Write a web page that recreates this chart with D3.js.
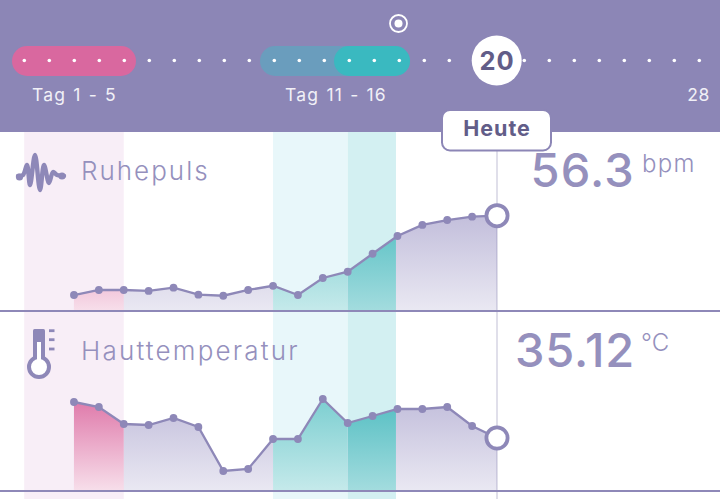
<!DOCTYPE html>
<html>
<head>
<meta charset="utf-8">
<script src="https://cdn.jsdelivr.net/npm/d3@7"></script>
<style>
  html, body { margin: 0; padding: 0; background: #fff; }
  svg { display: block; }
</style>
</head>
<body>
<svg id="chart" width="720" height="499"></svg>
<script>
// Cycle days and daily readings (days 3 to 20)
const cycleDays = [1, 2, 3, 4, 5, 6, 7, 8, 9, 10, 11, 12, 13, 14, 15, 16, 17, 18, 19, 20, 21, 22, 23, 24, 25, 26, 27, 28];
const measuredDays = [3, 4, 5, 6, 7, 8, 9, 10, 11, 12, 13, 14, 15, 16, 17, 18, 19, 20];
const restingPulse = [49.69, 50.11, 50.11, 50.03, 50.3, 49.72, 49.63, 50.11, 50.46, 49.69, 51.11, 51.63, 53.13, 54.61, 55.53, 55.94, 56.22, 56.3];
const skinTemperature = [35.48, 35.43, 35.26, 35.25, 35.32, 35.23, 34.79, 34.81, 35.11, 35.11, 35.51, 35.27, 35.34, 35.41, 35.41, 35.43, 35.24, 35.12];
const today = 20;
const lastDay = 28;
const todayLabel = "Heute";
const periodLabel = "Tag 1 - 5";
const fertileLabel = "Tag 11 - 16";
const phaseStart = [1, 11, 14];
const phaseEnd = [5, 14, 16];

const svg = d3.select("#chart");
const W = 720, H = 499;
const HEADER = 132;

const C = {
  header: "#8c86b6", line: "#8e88b8", text: "#9590bd", soft: "#f1f0f7",
  dark: "#625d88", guide: "#d6d4e3"
};

// Timeline and chart share a day axis but sit on slightly different grids
const xTop = d3.scaleLinear().domain([1, 28]).range([24.3, 699.3]);
const x = d3.scaleLinear().domain([1, 20]).range([24.2, 497]);
const yPulse = d3.scaleLinear().domain([48.3, 56.3]).range([311.7, 215.7]);
const yTemp = d3.scaleLinear().domain([34.59, 35.12]).range([491, 438]);

const defs = svg.append("defs");

// Vertical fades, one set per chart
function fade(id, color, y1, y2, o1, o2) {
  const g = defs.append("linearGradient").attr("id", id)
    .attr("gradientUnits", "userSpaceOnUse")
    .attr("x1", 0).attr("x2", 0).attr("y1", y1).attr("y2", y2);
  g.append("stop").attr("offset", 0).attr("stop-color", color).attr("stop-opacity", o1);
  g.append("stop").attr("offset", 1).attr("stop-color", color).attr("stop-opacity", o2);
}

// Phase backgrounds
const bandFill = ["#f8eef7", "#e8f7fa", "#d3f0f2"];
phaseStart.forEach((d, i) => {
  svg.append("rect")
    .attr("x", x(d)).attr("y", HEADER)
    .attr("width", x(phaseEnd[i]) - x(d) - (i === 2 ? 1.5 : 0))
    .attr("height", H - HEADER)
    .attr("fill", bandFill[i]);
});

// Today guide
svg.append("line")
  .attr("x1", x(today)).attr("x2", x(today))
  .attr("y1", 150).attr("y2", H)
  .attr("stroke", C.guide).attr("stroke-width", 1.5);

// Draws one metric panel
function panel(key, values, y, baseline, top) {
  const area = d3.area().x((d, i) => x(measuredDays[i])).y0(baseline).y1(d => y(d));
  const line = d3.line().x((d, i) => x(measuredDays[i])).y(d => y(d));

  fade(key + "-base", "#8a82ba", top, baseline, 0.52, 0.18);
  fade(key + "-p0", "#d9609a", top, baseline, 0.85, 0.2);
  fade(key + "-p1", "#3fb8bb", top, baseline, 0.68, 0.3);
  fade(key + "-p2", "#2fb0b5", top, baseline, 0.82, 0.44);

  svg.append("path").attr("d", area(values)).attr("fill", `url(#${key}-base)`);

  phaseStart.forEach((d, i) => {
    const clipId = `${key}-clip${i}`;
    defs.append("clipPath").attr("id", clipId).append("rect")
      .attr("x", x(d)).attr("y", top - 20)
      .attr("width", x(phaseEnd[i]) - x(d) - (i === 2 ? 1.5 : 0))
      .attr("height", baseline - top + 20);
    // White underlay keeps the phase colour from mixing with the band behind it
    svg.append("path").attr("d", area(values))
      .attr("clip-path", `url(#${clipId})`)
      .attr("fill", "#fff");
    svg.append("path").attr("d", area(values))
      .attr("clip-path", `url(#${clipId})`)
      .attr("fill", `url(#${key}-p${i})`);
  });

  svg.append("path").attr("d", line(values))
    .attr("fill", "none").attr("stroke", C.line).attr("stroke-width", 2.3);

  svg.selectAll(`.dot-${key}`).data(values.slice(0, -1)).join("circle")
    .attr("cx", (d, i) => x(measuredDays[i])).attr("cy", d => y(d))
    .attr("r", 3.9).attr("fill", C.line);

  svg.append("circle")
    .attr("cx", x(today)).attr("cy", y(values[values.length - 1]))
    .attr("r", 10.6).attr("fill", "#fff")
    .attr("stroke", C.line).attr("stroke-width", 3.8);
}

panel("pulse", restingPulse, yPulse, 311, 215);
panel("temp", skinTemperature, yTemp, 491, 399);

// Panel separators
[311, 491].forEach(yy => {
  svg.append("line").attr("x1", 0).attr("x2", W).attr("y1", yy).attr("y2", yy)
    .attr("stroke", C.line).attr("stroke-width", 2);
});

// Header strip
svg.append("rect").attr("width", W).attr("height", HEADER).attr("fill", C.header);

const pillY = 46, pillH = 30;
const pills = [
  { from: 1, to: 5, color: "#d9689f", padL: 12.3, padR: 11.7 },
  { from: 11, to: 16, color: "#6a9dbd", padL: 14.3, padR: 10.7 },
  { from: 14, to: 16, color: "#3ab9c0", padL: 15.3, padR: 10.7 }
];
pills.forEach(p => {
  svg.append("rect")
    .attr("x", xTop(p.from) - p.padL).attr("y", pillY)
    .attr("width", xTop(p.to) - xTop(p.from) + p.padL + p.padR).attr("height", pillH)
    .attr("rx", 15).attr("fill", p.color);
});

svg.selectAll(".day-dot").data(cycleDays.filter(d => d !== today)).join("circle")
  .attr("cx", d => xTop(d)).attr("cy", 60.5).attr("r", 1.8).attr("fill", "#fff");

svg.append("circle").attr("cx", 496.7).attr("cy", 60.5).attr("r", 25).attr("fill", "#fff");

// Ovulation marker above the timeline
svg.append("circle").attr("cx", 398.5).attr("cy", 23.5).attr("r", 8.5)
  .attr("fill", "none").attr("stroke", "#fff").attr("stroke-width", 1.8);
svg.append("circle").attr("cx", 398.5).attr("cy", 23.5).attr("r", 4).attr("fill", "#fff");

function label(txt, xx, yy, size, fill, opts = {}) {
  return svg.append("text").attr("x", xx).attr("y", yy)
    .attr("text-anchor", opts.anchor || "start")
    .attr("font-family", opts.family || "Inter, Roboto, sans-serif")
    .attr("font-weight", opts.weight || 400)
    .attr("font-size", size)
    .attr("letter-spacing", opts.spacing || 0)
    .attr("word-spacing", opts.words || 0)
    .attr("fill", fill).text(txt);
}

label(today, 497.2, 69.5, 25.5, C.dark, { anchor: "middle", weight: 700, spacing: 1 });

label(periodLabel, 74.5, 101, 17.5, C.soft, { anchor: "middle", spacing: 1.2, words: 1 });
label(fertileLabel, 336, 101, 17.5, C.soft, { anchor: "middle", spacing: 1.2, words: 1 });
label(lastDay, 698.5, 101, 17.5, C.soft, { anchor: "middle", spacing: 0.5 });

// "Heute" callout
svg.append("rect").attr("x", 442).attr("y", 110).attr("width", 109).attr("height", 40.5)
  .attr("rx", 8).attr("fill", "#fff").attr("stroke", C.header).attr("stroke-width", 2);
label(todayLabel, 497, 136, 21.5, C.dark, { anchor: "middle", weight: 700, spacing: 1 });

// Metric names
label("Ruhepuls", 81, 180, 26, C.text, { spacing: 2, weight: 300 });
label("Hauttemperatur", 81, 360, 26, C.text, { spacing: 2.2, weight: 300 });

// Current readings
label(restingPulse[restingPulse.length - 1], 635, 187, 47, C.text, { anchor: "end", weight: 500, spacing: 1.2 });
label("bpm", 642, 172, 24, C.text, { spacing: 1.3, weight: 300 });
label(skinTemperature[skinTemperature.length - 1], 635, 367, 47, C.text, { anchor: "end", weight: 500, spacing: 0.8 });
label("°C", 641, 351, 24, C.text, { weight: 300 });

// Pulse wave icon
const wavePts = [[18, 176], [23, 175], [27, 165], [30, 185], [35, 155], [40, 190], [44, 165], [49, 183], [53, 172], [57, 175], [64, 176]];
svg.append("path")
  .attr("d", d3.line().curve(d3.curveCatmullRom)(wavePts))
  .attr("fill", "none").attr("stroke", C.line).attr("stroke-width", 4.4)
  .attr("stroke-linecap", "round").attr("stroke-linejoin", "round");
svg.append("circle").attr("cx", 19.5).attr("cy", 177).attr("r", 3.6).attr("fill", C.line);
svg.append("circle").attr("cx", 62).attr("cy", 176).attr("r", 3.6).attr("fill", C.line);

// Thermometer icon
svg.append("rect").attr("x", 33).attr("y", 329).attr("width", 12).attr("height", 32).attr("rx", 1.5).attr("fill", C.line);
svg.append("circle").attr("cx", 39).attr("cy", 367).attr("r", 10).attr("fill", "#fff").attr("stroke", C.line).attr("stroke-width", 4);
svg.append("rect").attr("x", 37).attr("y", 342).attr("width", 4).attr("height", 20).attr("fill", "#fff");
[330.7, 339.7, 349].forEach(yy => {
  svg.append("rect").attr("x", 49).attr("y", yy - 1.4).attr("width", 5.5).attr("height", 2.8).attr("fill", C.line);
});
</script>
</body>
</html>
